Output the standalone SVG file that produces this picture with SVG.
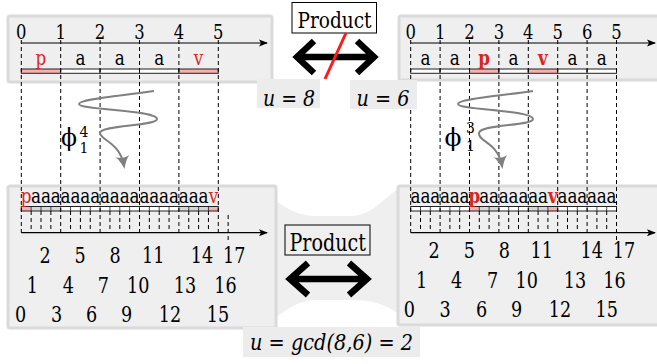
<svg xmlns="http://www.w3.org/2000/svg" width="657" height="364" viewBox="0 0 657 364">
<style>
.t{font-family:'DejaVu Serif','Liberation Serif',serif;fill:#000}
.i{font-style:italic}
.panel{fill:#efefef;stroke:#dadada;stroke-width:3}
.lab{fill:#ececec}
.dash{stroke:#000;stroke-width:1;stroke-dasharray:4 3;fill:none}
.cell{stroke:#222;stroke-width:1}
.out{fill:none;stroke:#222;stroke-width:1}
.div{stroke:#222;stroke-width:0.8;fill:none}
.pink{fill:#f6b0ad}
.grey{fill:#d6d6d6}
.white{fill:#fff}
.red{fill:#d8261e}
.b{font-weight:bold}
.axis{stroke:#000;stroke-width:1.2;fill:none}
.big{stroke:#000;stroke-width:6.5;fill:none;stroke-linejoin:miter}
.sq{stroke:#808080;stroke-width:2;fill:none}
</style>
<defs>
<marker id="ax" viewBox="-10 -5 12 10" refX="0" refY="0" markerWidth="12" markerHeight="10" markerUnits="userSpaceOnUse" orient="auto"><path d="M1,0 L-8,-3.5 L-6,0 L-8,3.5 Z" fill="#000"/></marker>
<marker id="sqh" viewBox="-12 -8 16 16" refX="0" refY="0" markerWidth="16" markerHeight="16" markerUnits="userSpaceOnUse" orient="auto"><path d="M3,0 C-3,-2 -7,-4 -10,-7 C-8,-3 -8,3 -10,7 C-7,4 -3,2 3,0 Z" fill="#808080"/></marker>
</defs>

<path id="bridge" d="M276,201 C290,210 298,216 318,216 L350,216 C372,216 384,198 399,188 L399,314 C385,304 372,300 350,300 L318,300 C298,300 290,308 276,317 Z" fill="#efefef"/>

<g id="panel-top-left">
<rect class="panel" x="8" y="16" width="264" height="66" rx="2"/>
<text class="t" font-size="20.5" y="39.5" text-anchor="middle" transform="scale(0.8 1)"><tspan x="26.625">0</tspan><tspan x="75.875">1</tspan><tspan x="125.125">2</tspan><tspan x="174.375">3</tspan><tspan x="223.625">4</tspan><tspan x="272.875">5</tspan></text>
<line class="axis" x1="21.3" y1="43" x2="267" y2="43" marker-end="url(#ax)"/>
<rect class="cell pink" x="21.3" y="69" width="39.4" height="4.3"/>
<rect class="cell white" x="60.7" y="69" width="39.4" height="4.3"/>
<rect class="cell white" x="100.1" y="69" width="39.4" height="4.3"/>
<rect class="cell white" x="139.5" y="69" width="39.4" height="4.3"/>
<rect class="cell pink" x="178.9" y="69" width="39.4" height="4.3"/>
<text class="t" font-size="21" y="65.5" text-anchor="middle" transform="scale(0.8 1)"><tspan class="red" x="51.25">p</tspan><tspan x="100.5 149.75 199">aaa</tspan><tspan class="red" x="248.25">v</tspan></text>
</g>

<g id="panel-top-right">
<rect class="panel" x="399" y="16" width="270" height="64" rx="2"/>
<text class="t" font-size="20.5" y="39.5" text-anchor="middle" transform="scale(0.8 1)"><tspan x="513.375">0</tspan><tspan x="550.125">1</tspan><tspan x="586.875">2</tspan><tspan x="623.625">3</tspan><tspan x="660.375">4</tspan><tspan x="697.125">5</tspan><tspan x="733.875">6</tspan><tspan x="770.625">5</tspan></text>
<line class="axis" x1="410.7" y1="43" x2="655" y2="43" marker-end="url(#ax)"/>
<rect class="cell white" x="410.7" y="69" width="29.4" height="4.3"/>
<rect class="cell white" x="440.1" y="69" width="29.4" height="4.3"/>
<rect class="cell pink" x="469.5" y="69" width="29.4" height="4.3"/>
<rect class="cell white" x="498.9" y="69" width="29.4" height="4.3"/>
<rect class="cell pink" x="528.3" y="69" width="29.4" height="4.3"/>
<rect class="cell white" x="557.7" y="69" width="29.4" height="4.3"/>
<rect class="cell white" x="587.1" y="69" width="29.4" height="4.3"/>
<text class="t" font-size="21" y="65.5" text-anchor="middle" transform="scale(0.8 1)"><tspan x="531.75 568.5">aa</tspan><tspan class="red b" x="605.25">p</tspan><tspan x="642">a</tspan><tspan class="red b" x="678.75">v</tspan><tspan x="715.5 752.25">aa</tspan></text>
</g>

<g id="panel-bottom-left">
<rect class="panel" x="8" y="186" width="268" height="142" rx="2"/>
<rect class="white" x="21.3" y="206.5" width="197" height="4.5"/>
<rect class="pink" x="21.3" y="206.5" width="9.85" height="4.5"/>
<rect class="grey" x="31.15" y="206.5" width="29.55" height="4.5"/>
<rect class="grey" x="178.9" y="206.5" width="29.55" height="4.5"/>
<rect class="pink" x="208.45" y="206.5" width="9.85" height="4.5"/>
<rect class="out" x="21.3" y="206.5" width="197" height="4.5"/>
<path class="div" d="M31.15,206.5v4.5M41,206.5v4.5M50.85,206.5v4.5M60.7,206.5v4.5M70.55,206.5v4.5M80.4,206.5v4.5M90.25,206.5v4.5M100.1,206.5v4.5M109.95,206.5v4.5M119.8,206.5v4.5M129.65,206.5v4.5M139.5,206.5v4.5M149.35,206.5v4.5M159.2,206.5v4.5M169.05,206.5v4.5M178.9,206.5v4.5M188.75,206.5v4.5M198.6,206.5v4.5M208.45,206.5v4.5"/>
<path class="dash" d="M31.15,211V232.7M41,211V232.7M50.85,211V232.7M70.55,211V232.7M80.4,211V232.7M90.25,211V232.7M109.95,211V232.7M119.8,211V232.7M129.65,211V232.7M149.35,211V232.7M159.2,211V232.7M169.05,211V232.7M188.75,211V232.7M198.6,211V232.7M208.45,211V232.7M228.15,215V241"/>
<line class="axis" x1="21.3" y1="232.7" x2="267" y2="232.7" marker-end="url(#ax)"/>
<text class="t" font-size="21" y="203" text-anchor="middle" transform="scale(0.8 1)"><tspan class="red" x="32.78">p</tspan><tspan x="45.09 57.41 69.72 82.03 94.34 106.66 118.97 131.28 143.59 155.91 168.22 180.53 192.84 205.16 217.47 229.78 242.09 254.41">aaaaaaaaaaaaaaaaaa</tspan><tspan class="red" x="266.72">v</tspan></text>
<text class="t" font-size="22" text-anchor="middle" transform="scale(0.8 1)">
<tspan y="263.3" x="56.25">2</tspan><tspan y="263.3" x="100">5</tspan><tspan y="263.3" x="143.75">8</tspan><tspan y="263.3" x="191.625">11</tspan><tspan y="263.3" x="252.5">14</tspan><tspan y="263.3" x="296.25">17</tspan>
<tspan y="293.3" x="40.375">1</tspan><tspan y="293.3" x="85.375">4</tspan><tspan y="293.3" x="129.125">7</tspan><tspan y="293.3" x="172.875">10</tspan><tspan y="293.3" x="231.25">13</tspan><tspan y="293.3" x="285.375">16</tspan>
<tspan y="321.7" x="25.875">0</tspan><tspan y="321.7" x="70.875">3</tspan><tspan y="321.7" x="114.625">6</tspan><tspan y="321.7" x="158.375">9</tspan><tspan y="321.7" x="212.5">12</tspan><tspan y="321.7" x="272.5">15</tspan>
</text>
</g>

<g id="panel-bottom-right">
<rect class="panel" x="398" y="186" width="272" height="139" rx="2"/>
<rect class="white" x="410.7" y="206.5" width="205.8" height="4.5"/>
<rect class="pink" x="469.5" y="206.5" width="9.8" height="4.5"/>
<rect class="grey" x="479.3" y="206.5" width="19.6" height="4.5"/>
<rect class="grey" x="528.3" y="206.5" width="19.6" height="4.5"/>
<rect class="pink" x="547.9" y="206.5" width="9.8" height="4.5"/>
<rect class="out" x="410.7" y="206.5" width="205.8" height="4.5"/>
<path class="div" d="M420.5,206.5v4.5M430.3,206.5v4.5M440.1,206.5v4.5M449.9,206.5v4.5M459.7,206.5v4.5M469.5,206.5v4.5M479.3,206.5v4.5M489.1,206.5v4.5M498.9,206.5v4.5M508.7,206.5v4.5M518.5,206.5v4.5M528.3,206.5v4.5M538.1,206.5v4.5M547.9,206.5v4.5M557.7,206.5v4.5M567.5,206.5v4.5M577.3,206.5v4.5M587.1,206.5v4.5M596.9,206.5v4.5M606.7,206.5v4.5"/>
<path class="dash" d="M420.5,211V232.7M430.3,211V232.7M449.9,211V232.7M459.7,211V232.7M479.3,211V232.7M489.1,211V232.7M508.7,211V232.7M518.5,211V232.7M538.1,211V232.7M547.9,211V232.7M567.5,211V232.7M577.3,211V232.7M596.9,211V232.7M606.7,211V232.7"/>
<line class="axis" x1="410.7" y1="232.7" x2="655" y2="232.7" marker-end="url(#ax)"/>
<text class="t" font-size="21" y="203" text-anchor="middle" transform="scale(0.8 1)"><tspan x="519.5 531.75 544 556.25 568.5 580.75">aaaaaa</tspan><tspan class="red b" x="593">p</tspan><tspan x="605.25 617.5 629.75 642 654.25 666.5 678.75">aaaaaaa</tspan><tspan class="red b" x="691">v</tspan><tspan x="703.25 715.5 727.75 740 752.25 764.5">aaaaaa</tspan></text>
<text class="t" font-size="22" text-anchor="middle" transform="scale(0.8 1)">
<tspan y="258.5" x="542.5">2</tspan><tspan y="258.5" x="586.625">5</tspan><tspan y="258.5" x="630.375">8</tspan><tspan y="258.5" x="677.125">11</tspan><tspan y="258.5" x="739.625">14</tspan><tspan y="258.5" x="783.375">17</tspan>
<tspan y="288.3" x="527.125">1</tspan><tspan y="288.3" x="570.875">4</tspan><tspan y="288.3" x="615.875">7</tspan><tspan y="288.3" x="658.375">10</tspan><tspan y="288.3" x="718.75">13</tspan><tspan y="288.3" x="771.625">16</tspan>
<tspan y="317" x="511.625">0</tspan><tspan y="317" x="556.25">3</tspan><tspan y="317" x="602.125">6</tspan><tspan y="317" x="645.875">9</tspan><tspan y="317" x="700">12</tspan><tspan y="317" x="758.375">15</tspan>
</text>
</g>

<g id="guides">
<path class="dash" d="M21.3,40V232.7M60.7,40V232.7M100.1,40V232.7M139.5,40V232.7M178.9,40V232.7M218.3,40V232.7"/>
<path class="dash" d="M410.7,40V232.7M440.1,40V232.7M469.5,40V232.7M498.9,40V232.7M528.3,40V232.7M557.7,40V232.7M587.1,40V232.7M616.5,40V242"/>
</g>

<g id="label-u8">
<rect class="lab" x="257" y="79" width="63" height="29"/>
<text class="t i" font-size="23" x="263" y="105.5" textLength="52" lengthAdjust="spacingAndGlyphs">u = 8</text>
</g>
<g id="label-u6">
<rect class="lab" x="350" y="80" width="67" height="29"/>
<text class="t i" font-size="23" x="356.5" y="106" textLength="53" lengthAdjust="spacingAndGlyphs">u = 6</text>
</g>
<g id="label-gcd">
<rect class="lab" x="243" y="327" width="177" height="30"/>
<text class="t i" font-size="23" x="250" y="350" textLength="163" lengthAdjust="spacingAndGlyphs">u = gcd(8,6) = 2</text>
</g>

<g id="product-top">
<rect x="292" y="2.5" width="84.5" height="30.5" fill="#fff" stroke="#000" stroke-width="1"/>
<text class="t" font-size="23" x="297.5" y="28" textLength="74" lengthAdjust="spacingAndGlyphs">Product</text>
</g>
<g id="product-bottom">
<rect x="285" y="225" width="85" height="30" fill="none" stroke="#000" stroke-width="1"/>
<text class="t" font-size="24" x="289.5" y="251" textLength="76.5" lengthAdjust="spacingAndGlyphs">Product</text>
</g>

<g id="phi-left">
<text class="t" font-size="24" x="61" y="146" textLength="16" lengthAdjust="spacingAndGlyphs">ϕ</text>
<text class="t" font-size="14" x="79.5" y="136.5">4</text>
<text class="t" font-size="14" x="79.5" y="153">1</text>
</g>
<g id="phi-right">
<text class="t" font-size="24" x="444.5" y="146" textLength="17" lengthAdjust="spacingAndGlyphs">ϕ</text>
<text class="t" font-size="14" x="466" y="133">3</text>
<text class="t" font-size="14" x="466" y="151">1</text>
</g>

<g id="connectors">
<path class="big" d="M314,41 L297,57 L314,73 M297,57 L374,57 M357,41 L374,57 L357,73"/>
<line x1="346" y1="33" x2="325" y2="79" stroke="#ff1a1a" stroke-width="3"/>
<path class="big" d="M308,263 L290,279 L308,295 M290,279 L367,279 M349,263 L367,279 L349,295"/>
<path class="sq" d="M154,91 C120,96 79,99 79,104 C79,110 157,110 157,119 C157,126 100,125 100,133 C100,140 120,142 124,166" marker-end="url(#sqh)"/>
<path class="sq" d="M533,91 C500,96 458,99 458,104 C458,110 533,110 533,119 C533,126 480,124 479,133 C478,142 498,142 502,166" marker-end="url(#sqh)"/>
</g>
</svg>
